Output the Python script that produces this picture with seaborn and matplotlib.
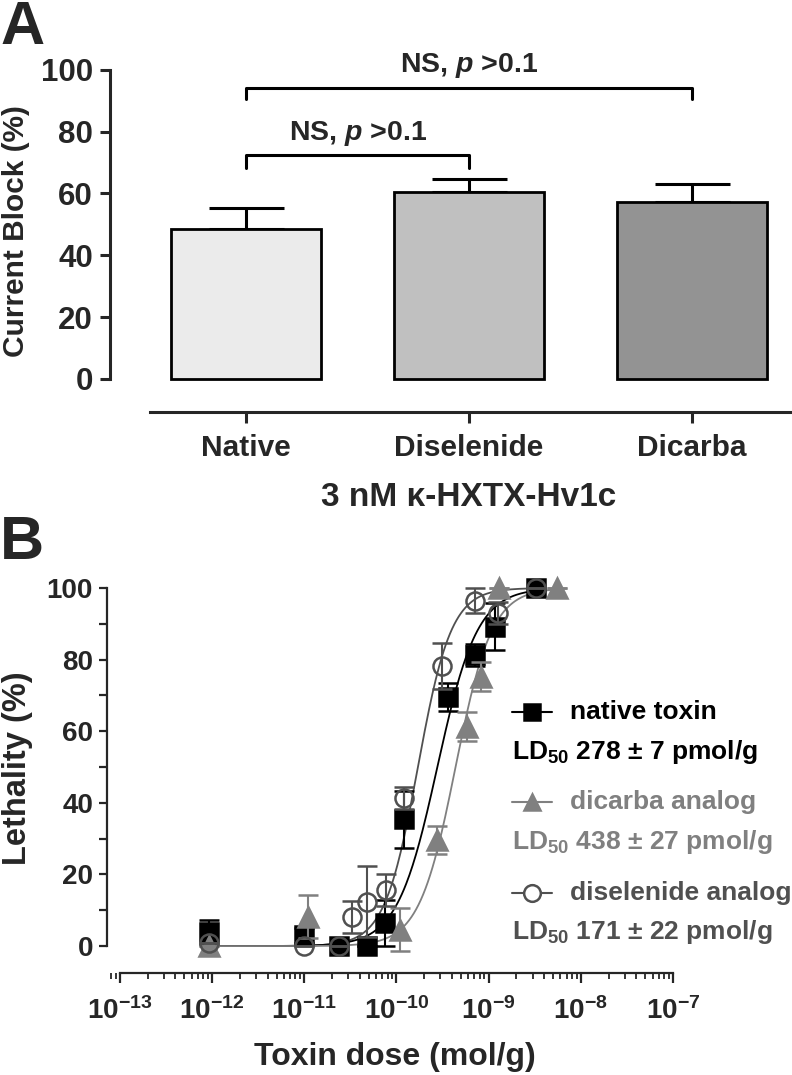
import numpy as np
import pandas as pd
import seaborn as sns
import matplotlib.pyplot as plt
from matplotlib.lines import Line2D
from matplotlib.ticker import LogLocator, NullFormatter, MultipleLocator

sns.set_style('ticks')
plt.rcParams['font.family'] = ['Liberation Sans', 'DejaVu Sans']
plt.rcParams['font.weight'] = 'bold'
plt.rcParams['mathtext.fontset'] = 'custom'
plt.rcParams['mathtext.rm'] = 'Liberation Sans:bold'
plt.rcParams['mathtext.bf'] = 'Liberation Sans:bold'
plt.rcParams['mathtext.it'] = 'Liberation Sans:bold:italic'

# Panel A data: current block at 3 nM
block_groups = ['Native', 'Diselenide', 'Dicarba']
block_mean = [48.6, 60.6, 57.2]
block_sem = [6.8, 4.1, 5.8]
bar_colors = ['#ebebeb', '#c0c0c0', '#939393']

# Panel B data: lethality vs dose
native_dose = [9.3e-13, 1.0e-11, 2.4e-11, 4.8e-11, 7.5e-11, 1.2e-10, 3.6e-10, 7.2e-10, 1.17e-9, 3.3e-9]
native_leth = [4.0, 3.0, 0.0, 0.0, 6.5, 35.4, 69.6, 81.3, 89.2, 100.0]
native_err = [3.3, 2.0, 0.0, 0.0, 6.5, 8.0, 4.0, 3.0, 6.5, 0.0]

dicarba_dose = [9.3e-13, 1.1e-11, 1.1e-10, 2.76e-10, 5.76e-10, 8.3e-10, 1.3e-9, 5.5e-9]
dicarba_leth = [0.0, 8.2, 4.5, 29.6, 61.3, 75.2, 100.0, 100.0]
dicarba_err = [0.0, 6.0, 6.0, 4.0, 4.0, 4.0, 0.0, 0.0]

disel_dose = [9.3e-13, 1.0e-11, 2.4e-11, 3.3e-11, 4.8e-11, 7.7e-11, 1.2e-10, 3.15e-10, 7.2e-10, 1.26e-9, 3.3e-9]
disel_leth = [1.0, 0.0, 0.0, 8.2, 12.4, 15.6, 41.4, 78.2, 96.5, 93.0, 100.0]
disel_err = [0.0, 0.0, 0.0, 4.5, 10.0, 4.5, 3.0, 6.5, 3.5, 3.0, 0.0]

# LD50 (mol/g) and hill slopes of the fitted curves
ld50 = {'native': 2.78e-10, 'dicarba': 4.38e-10, 'disel': 1.71e-10}
hill = {'native': 2.0, 'dicarba': 2.2, 'disel': 2.4}

c_native, c_dicarba, c_disel = '#000000', '#808080', '#505050'

fig = plt.figure(figsize=(7.92, 10.75), dpi=100)

# ---------------- Panel A
ax = fig.add_axes([0.1384, 0.617, 0.8616, 0.3326])
sns.barplot(x=block_groups, y=block_mean, hue=block_groups, palette=bar_colors,
            width=0.67, edgecolor='black', linewidth=2.0, legend=False, ax=ax, zorder=2)
ax.errorbar(range(3), block_mean, yerr=[np.zeros(3), block_sem], fmt='none',
            ecolor='black', elinewidth=2.2, capsize=27, capthick=2.2, zorder=1)
ax.set_xlim(-0.612, 2.448)
ax.set_ylim(-10.6, 105)
ax.set_yticks(range(0, 101, 20))
ax.spines['left'].set_bounds(0, 100)
ax.spines['bottom'].set_bounds(-0.43, 2.448)
for s in ['left', 'bottom']:
    ax.spines[s].set_linewidth(2.2)
sns.despine(ax=ax)
ax.tick_params(axis='y', labelsize=22.5, length=7, width=2.2, pad=5)
ax.tick_params(axis='x', labelsize=21.5, length=8, width=2.2, pad=8)
ax.set_xlabel('')
ax.set_ylabel('')
fig.text(469 / 792, 1 - 498 / 1075, '3 nM κ-HXTX-Hv1c', ha='center', va='center',
         fontsize=24, fontweight='bold')
fig.text(16 / 792, 1 - 231.5 / 1075, 'Current Block (%)', rotation=90,
         ha='center', va='center', fontsize=21.5, fontweight='bold')

# significance brackets
ax.plot([0, 0, 2, 2], [90.5, 94.2, 94.2, 90.5], color='black', lw=2.2, clip_on=False)
ax.text(1, 101.5, 'NS, $p$ >0.1', ha='center', va='center', fontsize=20.5, fontweight='bold')
ax.plot([0, 0, 1, 1], [68.1, 72.3, 72.3, 68.1], color='black', lw=2.2, clip_on=False)
ax.text(0.5, 79.5, 'NS, $p$ >0.1', ha='center', va='center', fontsize=20.5, fontweight='bold')

fig.text(0.0, 1.0, 'A', ha='left', va='top', fontsize=44, fontweight='bold')

# ---------------- Panel B
bx = fig.add_axes([0.1351, 0.0946, 0.7146, 0.3684])
bx.set_xscale('log')

series = [
    ('disel', disel_dose, disel_leth, disel_err, c_disel, 'o', 'none'),
    ('native', native_dose, native_leth, native_err, c_native, 's', c_native),
    ('dicarba', dicarba_dose, dicarba_leth, dicarba_err, c_dicarba, '^', c_dicarba),
]
for key, dose, leth, err, col, mk, fc in series:
    xs = np.logspace(np.log10(dose[0]), np.log10(dose[-1]), 300)
    fit = pd.DataFrame({'dose': xs, 'leth': 100 / (1 + (ld50[key] / xs) ** hill[key])})
    sns.lineplot(data=fit, x='dose', y='leth', color=col, lw=1.3, ax=bx, zorder=2)

zo = {'native': 3, 'dicarba': 4, 'disel': 5}
for key, dose, leth, err, col, mk, fc in series:
    bx.errorbar(dose, leth, yerr=err, fmt=mk, ms=13 if mk != '^' else 14,
                mfc=fc, mec=col, mew=1.8, color=col, ecolor=col, elinewidth=1.5,
                capsize=7, capthick=1.5, clip_on=False, zorder=zo[key])

bx.set_xlim(10 ** -13.14, 1e-7)
bx.set_ylim(-7.6, 103)
exps = list(range(-13, -6))
bx.set_xticks([10.0 ** e for e in exps], labels=['10$^{%d}$' % e for e in exps])
bx.xaxis.set_minor_locator(LogLocator(base=10, subs=np.arange(2, 10), numticks=20))
bx.xaxis.set_minor_formatter(NullFormatter())
bx.set_yticks(range(0, 101, 20))
bx.yaxis.set_minor_locator(MultipleLocator(10))
bx.spines['left'].set_bounds(0, 100)
bx.spines['bottom'].set_bounds(1e-13, 1e-7)
for s in ['left', 'bottom']:
    bx.spines[s].set_linewidth(1.6)
sns.despine(ax=bx)
bx.tick_params(axis='y', which='both', labelsize=20, length=6, width=1.6, pad=4)
bx.tick_params(axis='x', which='major', labelsize=20, length=7, width=1.6, pad=10)
bx.tick_params(axis='x', which='minor', length=4, width=1.3)
bx.set_xlabel('')
bx.set_ylabel('')
fig.text(395 / 792, 1 - 1057 / 1075, 'Toxin dose (mol/g)', ha='center', va='center',
         fontsize=23, fontweight='bold')
fig.text(18 / 792, 1 - 768.5 / 1075, 'Lethality (%)', rotation=90,
         ha='center', va='center', fontsize=23.5, fontweight='bold')

fig.text(0.0, 1 - 515 / 1075, 'B', ha='left', va='top', fontsize=44, fontweight='bold')

# legend
legend_rows = [
    ('native toxin', 'LD$_{50}$ 278 ± 7 pmol/g', c_native, 's', c_native, 711.7, 751.7),
    ('dicarba analog', 'LD$_{50}$ 438 ± 27 pmol/g', c_dicarba, '^', c_dicarba, 801.7, 841.7),
    ('diselenide analog', 'LD$_{50}$ 171 ± 22 pmol/g', c_disel, 'o', 'white', 893.3, 931.7),
]
for name, ldtxt, col, mk, fc, y1, y2 in legend_rows:
    fy1, fy2 = 1 - y1 / 1075, 1 - y2 / 1075
    fig.add_artist(Line2D([511.7 / 792, 551.7 / 792], [fy1, fy1], color=col, lw=1.5,
                          transform=fig.transFigure))
    fig.add_artist(Line2D([531.7 / 792], [fy1], marker=mk, ms=12, mfc=fc, mec=col, mew=1.8,
                          transform=fig.transFigure))
    fig.text(570 / 792, fy1, name, color=col, ha='left', va='center', fontsize=19, fontweight='bold')
    fig.text(511.7 / 792, fy2, ldtxt, color=col, ha='left', va='center', fontsize=19, fontweight='bold')

fig.savefig('out.png', dpi=100)
